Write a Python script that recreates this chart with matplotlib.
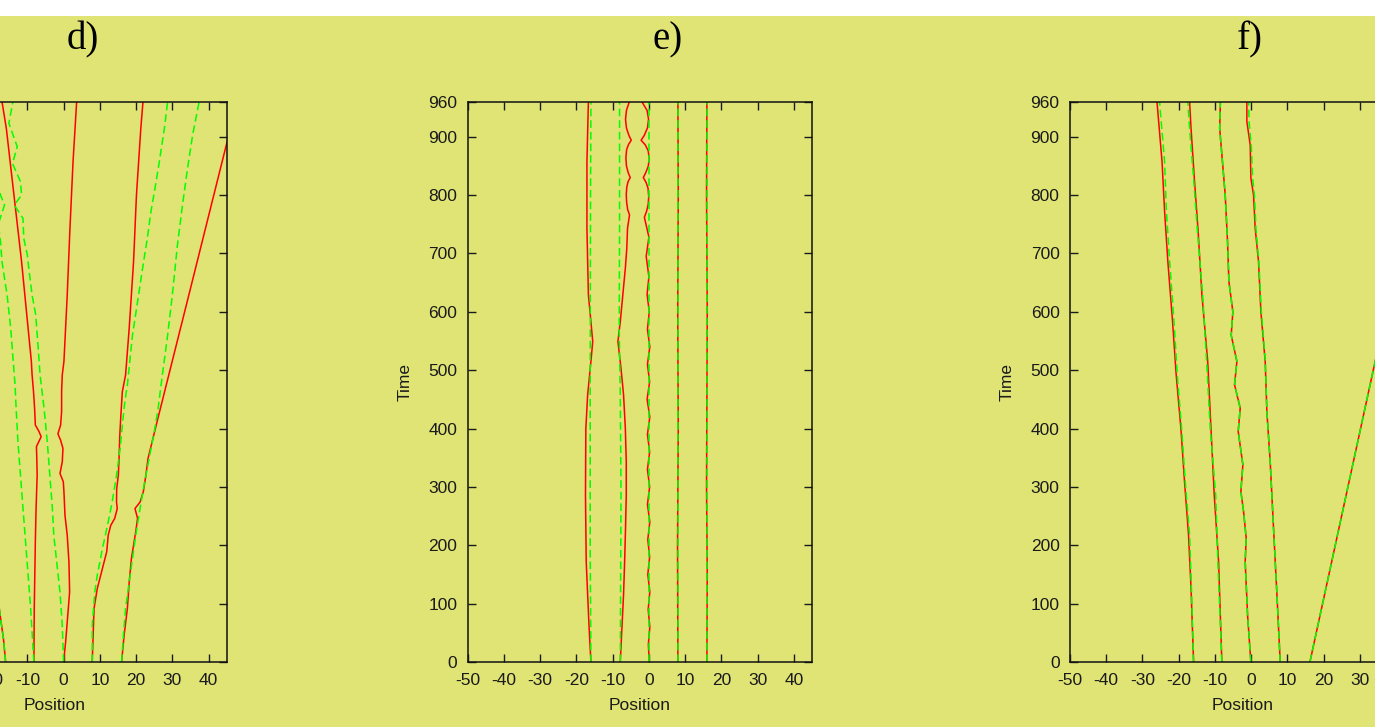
import matplotlib
matplotlib.use('Agg')
import matplotlib.pyplot as plt
from matplotlib.patches import Rectangle

W, H, DPI = 1375, 727, 100
BG = '#dfe475'
RED = '#ff0000'
GREEN = '#00ff00'

TITLES = ['d)', 'e)', 'f)']
X_TICKS = [-50, -40, -30, -20, -10, 0, 10, 20, 30, 40]
Y_TICKS = [0, 100, 200, 300, 400, 500, 600, 700, 800, 900, 960]
X_LABEL = 'Position'
Y_LABEL = 'Time'

# ---------------- panel d ----------------
D_RED_1_T = [0, 40, 75, 150]
D_RED_1_X = [-16.0, -16.6, -17.4, -19.0]
D_RED_2_T = [0, 92, 206, 263, 320, 349, 369, 386, 395, 406, 434, 463, 492, 515, 572, 686, 800, 914, 960]
D_RED_2_X = [-8.2, -8.1, -7.8, -7.6, -7.3, -7.4, -7.5, -6.2, -6.8, -7.8, -8.0, -8.3, -8.7, -8.9, -9.8, -11.6, -13.7, -15.8, -17.0]
D_RED_3_T = [0, 34, 92, 120, 171, 217, 252, 292, 309, 323, 343, 366, 380, 391, 406, 429, 463, 492, 515, 629, 743, 857, 960]
D_RED_3_X = [0.0, 0.55, 1.3, 1.66, 1.47, 1.0, 0.37, 0.09, -0.09, -1.0, -0.37, -0.18, -0.83, -1.57, -0.83, -0.55, -0.55, -0.37, 0.09, 1.0, 1.75, 2.6, 3.6]
D_RED_4_T = [0, 92, 126, 160, 189, 217, 234, 246, 263, 274, 297, 320, 349, 389, 423, 463, 492, 572, 686, 800, 914, 960]
D_RED_4_X = [7.9, 8.4, 9.3, 10.7, 11.9, 12.3, 13.0, 14.1, 14.8, 14.6, 14.65, 15.1, 15.3, 15.5, 15.8, 16.2, 17.1, 18.1, 19.3, 20.1, 21.3, 21.9]
D_RED_5_T = [0, 46, 92, 137, 177, 200, 223, 246, 263, 274, 292, 320, 349, 412, 469, 620, 891, 960]
D_RED_5_X = [16.0, 16.7, 17.6, 18.1, 18.7, 19.3, 19.9, 20.4, 19.7, 21.1, 22.0, 22.7, 23.3, 25.8, 28.1, 34.2, 45.1, 47.9]

D_GREEN_1_T = [0, 40, 75, 150]
D_GREEN_1_X = [-16.0, -16.6, -17.4, -19.0]
D_GREEN_2_T = [0, 92, 206, 263, 320, 377, 435, 475, 572, 629, 686, 720, 750, 770, 783, 800, 840]
D_GREEN_2_X = [-8.2, -9.1, -10.5, -11.2, -11.9, -12.6, -13.1, -13.4, -14.6, -15.6, -17.0, -17.4, -18.0, -17.0, -16.3, -17.4, -19.0]
D_GREEN_3_T = [0, 63, 120, 171, 217, 263, 320, 377, 435, 492, 537, 595, 629, 674, 697, 726, 760, 783, 800, 823, 854, 883, 923, 960]
D_GREEN_3_X = [0.0, -0.37, -1.0, -1.9, -2.7, -3.1, -3.8, -4.5, -5.4, -6.5, -7.0, -7.7, -8.7, -9.6, -10.0, -11.0, -11.2, -13.6, -11.6, -11.9, -14.1, -12.8, -15.1, -14.0]
D_GREEN_4_T = [0, 63, 120, 149, 194, 234, 274, 320, 366, 406, 446, 475, 560, 617, 675, 726, 772, 811, 857, 914, 960]
D_GREEN_4_X = [7.9, 7.9, 8.6, 9.3, 10.7, 12.1, 13.4, 14.6, 15.6, 16.2, 16.9, 17.6, 19.0, 20.4, 21.8, 23.1, 24.1, 25.2, 26.4, 27.8, 28.7]
D_GREEN_5_T = [0, 46, 92, 137, 177, 217, 263, 303, 349, 394, 435, 480, 560, 629, 714, 783, 846, 903, 960]
D_GREEN_5_X = [16.0, 16.5, 17.1, 18.1, 19.0, 19.9, 21.1, 22.2, 23.6, 25.0, 26.1, 27.0, 28.7, 30.0, 31.4, 32.8, 34.2, 35.6, 37.4]

# ---------------- panel e ----------------
E_RED_1_T = [0, 58, 115, 172, 286, 400, 458, 515, 549, 583, 629, 743, 857, 960]
E_RED_1_X = [-16.0, -16.5, -16.9, -17.3, -17.5, -17.4, -16.9, -16.0, -15.5, -16.0, -16.7, -17.1, -17.1, -16.7]
E_RED_2_T = [0, 58, 115, 172, 229, 286, 343, 400, 458, 503, 549, 583, 629, 675, 709, 743,
             766, 775, 788, 801, 814, 823, 830, 838, 850, 864, 878, 887, 894, 902, 915, 930, 945, 960]
E_RED_2_X = [-7.9, -7.45, -7.0, -6.7, -6.45, -6.25, -6.25, -6.5, -7.0, -7.7, -8.55, -7.9, -7.2, -6.5, -6.1, -5.9,
             -5.35, -5.85, -6.15, -6.25, -6.1, -5.75, -5.15, -5.7, -6.2, -6.35, -6.15, -5.6, -4.87, -5.5, -6.2, -6.45, -6.2, -5.4]
E_RED_3_T = [0, 30, 60, 90, 120, 150, 180, 210, 240, 270, 300, 330, 360, 390, 420, 450, 480, 510, 540, 570, 600, 630, 660, 695, 728,
             762, 772, 784, 797, 812, 822, 830, 838, 849, 862, 876, 886, 894, 902, 915, 930, 945, 960]
E_RED_3_X = [0.1, -0.15, 0.25, -0.2, 0.25, -0.3, 0.2, -0.3, 0.25, -0.4, 0.2, -0.4, 0.2, -0.4, 0.25, -0.5, 0.2, -0.4, 0.25, -0.4, 0.1, -0.5, 0.0, -0.75, 0.0,
             -1.25, -0.65, -0.2, -0.05, -0.25, -0.8, -1.55, -0.9, -0.2, 0.1, -0.2, -1.0, -2.15, -1.3, -0.4, -0.1, -0.5, -1.95]
E_RED_4_T = [0, 200, 400, 600, 800, 960]
E_RED_4_X = [8.0, 7.9, 8.1, 7.95, 8.1, 8.0]
E_RED_5_T = [0, 150, 300, 450, 600, 800, 960]
E_RED_5_X = [16.0, 16.1, 15.9, 16.0, 16.1, 15.9, 16.0]

E_GREEN_1_T = [0, 200, 500, 800, 960]
E_GREEN_1_X = [-16.0, -16.2, -16.2, -16.1, -16.0]
E_GREEN_2_T = [0, 286, 458, 572, 743, 960]
E_GREEN_2_X = [-7.9, -7.7, -7.9, -8.2, -8.1, -8.1]
E_GREEN_3_T = [0, 960]
E_GREEN_3_X = [0.1, 0.1]
E_GREEN_4_T = [0, 960]
E_GREEN_4_X = [8.0, 8.0]
E_GREEN_5_T = [0, 960]
E_GREEN_5_X = [16.0, 16.0]

# ---------------- panel f ----------------
F_RED_1_T = [0, 126, 218, 309, 400, 492, 583, 686, 772, 857, 960]
F_RED_1_X = [-15.9, -16.6, -17.3, -18.4, -19.4, -20.7, -21.7, -23.0, -23.9, -24.6, -26.0]
F_RED_2_T = [0, 172, 286, 400, 515, 629, 743, 829, 914, 960]
F_RED_2_X = [-8.1, -9.0, -10.2, -11.1, -12.0, -13.6, -14.7, -15.7, -16.6, -17.0]
F_RED_3_T = [0, 80, 172, 212, 258, 292, 338, 395, 435, 475, 515, 560, 600, 652, 720, 800, 869, 914, 960]
F_RED_3_X = [-0.1, -1.0, -1.66, -1.38, -2.11, -2.85, -2.3, -3.59, -3.03, -4.6, -3.95, -5.52, -5.06, -6.16, -6.53, -7.17, -8.09, -8.7, -8.5]
F_RED_4_T = [0, 115, 229, 343, 429, 515, 600, 686, 743, 800, 829, 886, 926, 960]
F_RED_4_X = [8.0, 7.1, 6.16, 5.24, 4.32, 3.86, 2.67, 2.02, 1.1, 0.64, -0.09, -0.28, -1.2, -1.2]
F_RED_5_T = [0, 515, 600]
F_RED_5_X = [16.2, 34.2, 37.2]

F_GREEN_1_T = [0, 126, 218, 309, 400, 492, 583, 686, 772, 857, 960]
F_GREEN_1_X = [-15.9, -16.5, -17.0, -18.2, -19.2, -20.4, -21.3, -22.5, -23.4, -23.9, -25.3]
F_GREEN_2_T = [0, 172, 286, 400, 515, 629, 743, 829, 914, 960]
F_GREEN_2_X = [-8.1, -9.2, -9.8, -11.3, -12.3, -13.4, -14.9, -15.9, -17.0, -17.5]
F_GREEN_3_T = F_RED_3_T
F_GREEN_3_X = F_RED_3_X
F_GREEN_4_T = [0, 115, 229, 343, 429, 515, 600, 686, 743, 800, 829, 886, 926, 960]
F_GREEN_4_X = [8.0, 7.1, 6.16, 5.24, 4.32, 3.9, 2.8, 2.1, 1.3, 0.9, 0.4, 0.0, -0.6, -0.7]
F_GREEN_5_T = F_RED_5_T
F_GREEN_5_X = F_RED_5_X

PANELS = [
    ([(D_RED_1_T, D_RED_1_X), (D_RED_2_T, D_RED_2_X), (D_RED_3_T, D_RED_3_X), (D_RED_4_T, D_RED_4_X), (D_RED_5_T, D_RED_5_X)],
     [(D_GREEN_1_T, D_GREEN_1_X), (D_GREEN_2_T, D_GREEN_2_X), (D_GREEN_3_T, D_GREEN_3_X), (D_GREEN_4_T, D_GREEN_4_X), (D_GREEN_5_T, D_GREEN_5_X)]),
    ([(E_RED_1_T, E_RED_1_X), (E_RED_2_T, E_RED_2_X), (E_RED_3_T, E_RED_3_X), (E_RED_4_T, E_RED_4_X), (E_RED_5_T, E_RED_5_X)],
     [(E_GREEN_1_T, E_GREEN_1_X), (E_GREEN_2_T, E_GREEN_2_X), (E_GREEN_3_T, E_GREEN_3_X), (E_GREEN_4_T, E_GREEN_4_X), (E_GREEN_5_T, E_GREEN_5_X)]),
    ([(F_RED_1_T, F_RED_1_X), (F_RED_2_T, F_RED_2_X), (F_RED_3_T, F_RED_3_X), (F_RED_4_T, F_RED_4_X), (F_RED_5_T, F_RED_5_X)],
     [(F_GREEN_1_T, F_GREEN_1_X), (F_GREEN_2_T, F_GREEN_2_X), (F_GREEN_3_T, F_GREEN_3_X), (F_GREEN_4_T, F_GREEN_4_X), (F_GREEN_5_T, F_GREEN_5_X)]),
]

plt.rcParams['font.family'] = ['Liberation Sans', 'DejaVu Sans']
plt.rcParams['axes.unicode_minus'] = False

fig = plt.figure(figsize=(W / DPI, H / DPI), dpi=DPI, facecolor=BG)
fig.patches.append(Rectangle((0, 1 - 16 / H), 1, 16 / H, transform=fig.transFigure,
                             facecolor='white', edgecolor='none'))

ax_left_px = [-117.6, 467.7, 1070.0]
ax_w_px, ax_top_px, ax_bot_px = 344.3, 101.7, 662.0
title_x_px = [83, 668, 1250]

for i, (reds, greens) in enumerate(PANELS):
    ax = fig.add_axes([ax_left_px[i] / W, (H - ax_bot_px) / H, ax_w_px / W, (ax_bot_px - ax_top_px) / H])
    ax.set_facecolor(BG)
    for t, x in reds:
        ax.plot(x, t, color=RED, lw=1.1, solid_joinstyle='round')
    for t, x in greens:
        ax.plot(x, t, color=GREEN, lw=1.1, dashes=(5, 2.6))
    ax.set_xlim(-50, 45)
    ax.set_ylim(0, 960)
    ax.set_xticks(X_TICKS)
    ax.set_yticks(Y_TICKS)
    ax.tick_params(direction='in', length=5.5, width=1.0, top=True, right=True,
                   labelsize=12.5, colors='#1a1a1a')
    ax.tick_params(axis='x', pad=8)
    ax.tick_params(axis='y', pad=7.5)
    for s in ax.spines.values():
        s.set_linewidth(1.1)
        s.set_color('#111111')
    ax.set_xlabel(X_LABEL, fontsize=12.5, color='#1a1a1a', va='center')
    ax.xaxis.set_label_coords(0.5, -0.0785)
    ax.set_ylabel(Y_LABEL, fontsize=12.5, color='#1a1a1a', va='center')
    ax.yaxis.set_label_coords(-0.182, 0.5)
    fig.text(title_x_px[i] / W, 1 - 49 / H, TITLES[i], ha='center', va='baseline',
             fontsize=28, family='Liberation Serif', color='black')

fig.savefig('out.png', dpi=DPI, facecolor=BG)
